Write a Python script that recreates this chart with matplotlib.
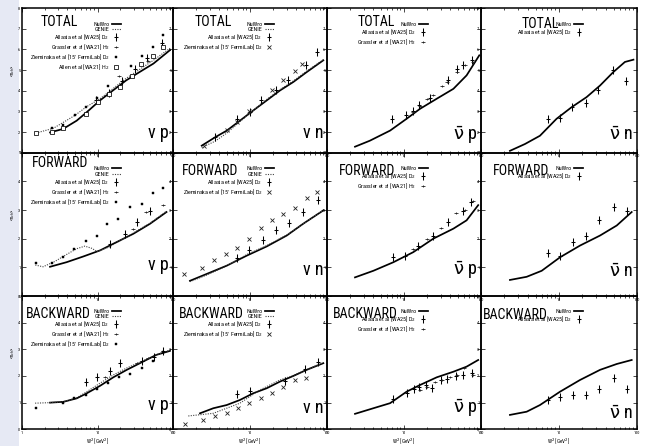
import matplotlib
matplotlib.use("Agg")
import matplotlib.pyplot as plt
from matplotlib.path import Path
from matplotlib.lines import Line2D
from matplotlib.patches import Rectangle

plt.rcParams["font.family"] = ["Liberation Sans Narrow", "Roboto Condensed", "Liberation Sans", "DejaVu Sans"]
plt.rcParams["mathtext.fontset"] = "dejavusans"

# ---------------- mean charged hadron multiplicity <n_ch> vs W^2 [GeV^2] ----------------
# TOTAL, nu p
vp_tot_nuwro_w2 = [2.35, 3.5, 5.3, 7.2, 10.8, 16, 24, 36, 55, 91]
vp_tot_nuwro_n = [1.98, 2.15, 2.55, 2.96, 3.53, 4.01, 4.5, 4.9, 5.31, 5.96]
vp_tot_genie_w2 = [1.53, 2.6, 5.0, 7.2, 10.8, 24, 54, 91]
vp_tot_genie_n = [1.95, 2.18, 2.8, 3.23, 3.61, 4.6, 5.45, 6.05]
vp_tot_allasia_w2 = [9.5, 14, 21, 31, 45, 72]
vp_tot_allasia_n = [3.55, 3.9, 4.45, 5.05, 5.6, 6.3]
vp_tot_grassler_w2 = [19.3, 47]
vp_tot_grassler_n = [4.7, 5.42]
vp_tot_zieminska_w2 = [2.5, 3.5, 5.0, 7.0, 9.9, 13.9, 27.5, 38.5, 54, 74]
vp_tot_zieminska_n = [2.18, 2.36, 2.8, 3.2, 3.66, 4.25, 5.18, 5.67, 6.12, 6.69]
vp_tot_allen_w2 = [1.53, 2.5, 3.5, 7.0, 10, 14, 20, 29, 38, 55, 74]
vp_tot_allen_n = [1.95, 2.02, 2.18, 2.88, 3.44, 3.85, 4.2, 4.7, 5.28, 5.67, 6.12]

# TOTAL, nu n
vn_tot_nuwro_w2 = [2.36, 3.5, 5.0, 7.4, 11, 16.5, 24.5, 36.5, 54.5, 89.6]
vn_tot_nuwro_n = [1.34, 1.74, 2.07, 2.55, 3.04, 3.53, 4.01, 4.42, 4.9, 5.47]
vn_tot_genie_w2 = [2.36, 3.5, 5.0, 7.4, 11, 16.5, 24.5, 36.5, 54.5, 89.6]
vn_tot_genie_n = [1.25, 1.55, 1.95, 2.5, 3.05, 3.58, 4.05, 4.47, 4.95, 5.5]
vn_tot_allasia_w2 = [3.5, 6.8, 10, 13.9, 21.8, 31.4, 53, 73.5]
vn_tot_allasia_n = [1.74, 2.63, 2.96, 3.56, 4.04, 4.5, 5.23, 5.88]
vn_tot_zieminska_w2 = [2.5, 5.0, 6.8, 9.8, 19.5, 27, 38, 48]
vn_tot_zieminska_n = [1.3, 2.1, 2.47, 3.04, 4.04, 4.5, 4.95, 5.31]

# TOTAL, anti-nu p
ap_tot_nuwro_w2 = [2.31, 3.6, 6.6, 10.8, 16.1, 26.6, 43.8, 65, 95]
ap_tot_nuwro_n = [1.29, 1.58, 2.07, 2.64, 3.12, 3.61, 4.09, 4.74, 5.71]
ap_tot_allasia_w2 = [6.9, 10.6, 13.2, 15.7, 21.8, 37.6, 48.3, 59, 75.6]
ap_tot_allasia_n = [2.64, 2.8, 3.04, 3.33, 3.66, 4.5, 5.07, 5.23, 5.47]
ap_tot_grassler_w2 = [13.2, 16.1, 19.7, 23.9, 30.9, 36.5, 48.3, 62, 78]
ap_tot_grassler_n = [2.96, 3.28, 3.61, 3.77, 4.21, 4.42, 4.9, 5.23, 5.39]

# TOTAL, anti-nu n
an_tot_nuwro_w2 = [2.35, 3.66, 5.7, 9.3, 14.5, 22.6, 33.6, 49.7, 70, 90]
an_tot_nuwro_n = [1.09, 1.42, 1.82, 2.64, 3.2, 3.69, 4.25, 4.9, 5.39, 5.5]
an_tot_allasia_w2 = [7.3, 10.3, 14.5, 22.2, 31.9, 49.7, 71.6]
an_tot_allasia_n = [2.64, 2.68, 3.2, 3.4, 4.04, 4.98, 4.45]

# FORWARD, nu p
vp_fwd_nuwro_w2 = [2.35, 3.9, 6.5, 10.8, 17.9, 29.8, 49.6, 82]
vp_fwd_nuwro_n = [1.02, 1.18, 1.38, 1.59, 1.88, 2.17, 2.52, 2.93]
vp_fwd_genie_w2 = [1.5, 1.9, 2.7, 3.9, 5.3, 6.8, 8.5, 9.8, 14, 25, 50, 82]
vp_fwd_genie_n = [1.08, 1.02, 1.2, 1.45, 1.65, 1.74, 1.66, 1.55, 1.7, 2.08, 2.55, 2.96]
vp_fwd_allasia_w2 = [14.6, 23, 33, 49.6]
vp_fwd_allasia_n = [1.82, 2.15, 2.58, 2.96]
vp_fwd_grassler_w2 = [29.8, 43.5, 74]
vp_fwd_grassler_n = [2.35, 2.93, 3.16]
vp_fwd_zieminska_w2 = [1.53, 2.47, 3.5, 4.9, 7.0, 9.8, 13.5, 18.9, 27, 38.5, 54, 74]
vp_fwd_zieminska_n = [1.15, 1.14, 1.35, 1.65, 1.91, 2.11, 2.52, 2.67, 3.11, 3.22, 3.58, 3.77]

# FORWARD, nu n
vn_fwd_nuwro_w2 = [1.66, 2.74, 5, 9.1, 16.5, 30, 49, 90]
vn_fwd_nuwro_n = [0.53, 0.77, 1.06, 1.41, 1.73, 2.11, 2.52, 2.99]
vn_fwd_genie_w2 = [1.66, 2.74, 5, 9.1, 16.5, 30, 49, 90]
vn_fwd_genie_n = [0.5, 0.73, 1.05, 1.45, 1.76, 2.13, 2.52, 3.0]
vn_fwd_allasia_w2 = [6.8, 9.8, 14.9, 21.8, 32.4, 49, 77]
vn_fwd_allasia_n = [1.33, 1.61, 1.94, 2.29, 2.54, 2.93, 3.34]
vn_fwd_zieminska_w2 = [1.39, 2.36, 3.4, 4.9, 6.8, 9.8, 13.8, 19.5, 27, 38.4, 54.5, 75]
vn_fwd_zieminska_n = [0.77, 0.98, 1.26, 1.47, 1.68, 2.0, 2.38, 2.64, 2.87, 3.08, 3.43, 3.63]

# FORWARD, anti-nu p
ap_fwd_nuwro_w2 = [2.31, 4.0, 7.3, 13.2, 24, 43.8, 65, 92]
ap_fwd_nuwro_n = [0.65, 0.88, 1.18, 1.53, 2.0, 2.35, 2.64, 3.17]
ap_fwd_allasia_w2 = [7.1, 10.3, 15.4, 24, 37.6, 59, 73.5]
ap_fwd_allasia_n = [1.35, 1.41, 1.76, 2.08, 2.58, 2.96, 3.28]
ap_fwd_grassler_w2 = [13.2, 19.7, 30, 47.5, 62, 78]
ap_fwd_grassler_n = [1.65, 2.0, 2.38, 2.89, 3.0, 3.3]

# FORWARD, anti-nu n
an_fwd_nuwro_w2 = [2.35, 3.85, 6.0, 10.3, 18.6, 33.6, 55, 85.5]
an_fwd_nuwro_n = [0.56, 0.67, 0.88, 1.35, 1.76, 2.11, 2.46, 2.93]
an_fwd_allasia_w2 = [7.3, 10.3, 15, 22.2, 32.9, 51, 75]
an_fwd_allasia_n = [1.49, 1.41, 1.9, 2.11, 2.64, 3.11, 2.96]

# BACKWARD, nu p
vp_bwd_nuwro_w2 = [2.35, 3.52, 5.3, 7.2, 10.8, 16.2, 24.4, 36.5, 60, 91]
vp_bwd_nuwro_n = [1.0, 1.03, 1.16, 1.35, 1.63, 1.95, 2.23, 2.48, 2.79, 2.94]
vp_bwd_genie_w2 = [1.49, 2.35, 3.52, 5.3, 7.2, 10.8, 16.2, 24.4, 36.5, 60, 91]
vp_bwd_genie_n = [0.98, 1.0, 1.03, 1.18, 1.41, 1.73, 2.04, 2.3, 2.52, 2.8, 2.97]
vp_bwd_allasia_w2 = [7.0, 9.9, 14.6, 19.8, 38.5, 56, 74]
vp_bwd_allasia_n = [1.76, 1.95, 2.19, 2.48, 2.57, 2.72, 2.94]
vp_bwd_grassler_w2 = [12.6, 33, 47]
vp_bwd_grassler_n = [1.95, 2.5, 2.66]
vp_bwd_zieminska_w2 = [1.53, 3.5, 4.9, 7.0, 9.9, 13.9, 19.4, 27, 38.5, 54, 74]
vp_bwd_zieminska_n = [0.79, 0.98, 1.16, 1.29, 1.5, 1.73, 1.98, 2.06, 2.29, 2.57, 2.89]

# BACKWARD, nu n
vn_bwd_nuwro_w2 = [2.24, 3.34, 4.98, 7.4, 11, 16.5, 24.5, 36.5, 54.5, 89.6]
vn_bwd_nuwro_n = [0.6, 0.79, 0.91, 1.1, 1.35, 1.54, 1.79, 2.0, 2.23, 2.48]
vn_bwd_genie_w2 = [1.58, 3.34, 7.4, 13.5, 24.5, 36.5, 54.5, 89.6]
vn_bwd_genie_n = [0.5, 0.6, 0.98, 1.48, 1.85, 2.02, 2.24, 2.5]
vn_bwd_allasia_w2 = [6.8, 10, 28.5, 52, 77]
vn_bwd_allasia_n = [1.33, 1.45, 1.82, 2.26, 2.54]
vn_bwd_zieminska_w2 = [1.43, 2.43, 3.5, 5.0, 7.0, 9.8, 13.8, 19.5, 27, 38.4, 53]
vn_bwd_zieminska_n = [0.19, 0.35, 0.5, 0.6, 0.79, 0.98, 1.16, 1.38, 1.6, 1.85, 1.91]

# BACKWARD, anti-nu p
ap_bwd_nuwro_w2 = [2.31, 4.0, 6.6, 10.8, 16.1, 26.6, 43.8, 65, 92]
ap_bwd_nuwro_n = [0.58, 0.79, 0.98, 1.41, 1.66, 1.95, 2.16, 2.35, 2.6]
ap_bwd_allasia_w2 = [7.1, 10.8, 13.5, 15.8, 19.3, 22.9, 30, 36.5, 47.5, 58, 75.6]
ap_bwd_allasia_n = [1.13, 1.38, 1.5, 1.6, 1.66, 1.54, 1.85, 1.88, 2.0, 2.04, 2.12]
ap_bwd_grassler_w2 = [16.1, 19.7, 25.3, 31.6, 39.5, 49, 60, 78]
ap_bwd_grassler_n = [1.48, 1.58, 1.79, 1.85, 1.95, 2.04, 2.29, 2.04]

# BACKWARD, anti-nu n
an_bwd_nuwro_w2 = [2.35, 3.85, 5.7, 10.3, 18.6, 33.6, 55, 85.5]
an_bwd_nuwro_n = [0.54, 0.66, 0.91, 1.41, 1.85, 2.23, 2.45, 2.6]
an_bwd_allasia_w2 = [7.3, 10.3, 15, 22.2, 32.9, 51, 73.6]
an_bwd_allasia_n = [1.1, 1.22, 1.29, 1.29, 1.51, 1.91, 1.51]

row_titles = ["TOTAL", "FORWARD", "BACKWARD"]
channel_labels = ["ν p", "ν n", "$\\bar{\\mathrm{\\nu}}$ p", "$\\bar{\\mathrm{\\nu}}$ n"]
row_ylims = [(1, 8), (0, 5), (0, 5)]
row_yticks = [[1, 2, 3, 4, 5, 6, 7, 8], [0, 1, 2, 3, 4, 5], [0, 1, 2, 3, 4, 5]]
x_ticks = [1, 10, 100]
x_ticklabels = ["1", "10", "100"]

# ---------------- marker shapes ----------------
tall_plus = Path([(-0.5, 0), (0.5, 0), (0, -1), (0, 1)],
                 [Path.MOVETO, Path.LINETO, Path.MOVETO, Path.LINETO])
bar_tick = Path([(-1, 0), (1, 0), (0, -0.45), (0, 0.45)],
                [Path.MOVETO, Path.LINETO, Path.MOVETO, Path.LINETO])

styles = {
    "nuwro": dict(color="black", lw=1.25, ls="-", marker=None),
    "genie": dict(color="#444444", lw=0.8, ls=(0, (1, 1.2)), marker=None),
    "allasia": dict(color="black", ls="none", marker=tall_plus, ms=5.5, mew=0.75),
    "grassler": dict(color="#222222", ls="none", marker=bar_tick, ms=3.2, mew=0.6),
    "zieminska_p": dict(color="black", ls="none", marker="s", ms=2.0, mew=0.3),
    "zieminska_n": dict(color="#222222", ls="none", marker="x", ms=2.6, mew=0.6),
    "allen": dict(color="black", ls="none", marker="s", ms=2.6, mew=0.55, mfc="white"),
}
labels = {
    "nuwro": "NuWro",
    "genie": "GENIE",
    "allasia": "Allasia et al [WA25] D$_2$",
    "grassler": "Grassler et al [WA21] H$_2$",
    "zieminska_p": "Zieminska et al [15' FermiLab] D$_2$",
    "zieminska_n": "Zieminska et al [15' FermiLab] D$_2$",
    "allen": "Allen et al [WA21] H$_2$",
}

panels = [
    [  # TOTAL
        [("nuwro", vp_tot_nuwro_w2, vp_tot_nuwro_n), ("genie", vp_tot_genie_w2, vp_tot_genie_n),
         ("allasia", vp_tot_allasia_w2, vp_tot_allasia_n), ("grassler", vp_tot_grassler_w2, vp_tot_grassler_n),
         ("zieminska_p", vp_tot_zieminska_w2, vp_tot_zieminska_n), ("allen", vp_tot_allen_w2, vp_tot_allen_n)],
        [("nuwro", vn_tot_nuwro_w2, vn_tot_nuwro_n), ("genie", vn_tot_genie_w2, vn_tot_genie_n),
         ("allasia", vn_tot_allasia_w2, vn_tot_allasia_n), ("zieminska_n", vn_tot_zieminska_w2, vn_tot_zieminska_n)],
        [("nuwro", ap_tot_nuwro_w2, ap_tot_nuwro_n), ("allasia", ap_tot_allasia_w2, ap_tot_allasia_n),
         ("grassler", ap_tot_grassler_w2, ap_tot_grassler_n)],
        [("nuwro", an_tot_nuwro_w2, an_tot_nuwro_n), ("allasia", an_tot_allasia_w2, an_tot_allasia_n)],
    ],
    [  # FORWARD
        [("nuwro", vp_fwd_nuwro_w2, vp_fwd_nuwro_n), ("genie", vp_fwd_genie_w2, vp_fwd_genie_n),
         ("allasia", vp_fwd_allasia_w2, vp_fwd_allasia_n), ("grassler", vp_fwd_grassler_w2, vp_fwd_grassler_n),
         ("zieminska_p", vp_fwd_zieminska_w2, vp_fwd_zieminska_n)],
        [("nuwro", vn_fwd_nuwro_w2, vn_fwd_nuwro_n), ("genie", vn_fwd_genie_w2, vn_fwd_genie_n),
         ("allasia", vn_fwd_allasia_w2, vn_fwd_allasia_n), ("zieminska_n", vn_fwd_zieminska_w2, vn_fwd_zieminska_n)],
        [("nuwro", ap_fwd_nuwro_w2, ap_fwd_nuwro_n), ("allasia", ap_fwd_allasia_w2, ap_fwd_allasia_n),
         ("grassler", ap_fwd_grassler_w2, ap_fwd_grassler_n)],
        [("nuwro", an_fwd_nuwro_w2, an_fwd_nuwro_n), ("allasia", an_fwd_allasia_w2, an_fwd_allasia_n)],
    ],
    [  # BACKWARD
        [("nuwro", vp_bwd_nuwro_w2, vp_bwd_nuwro_n), ("genie", vp_bwd_genie_w2, vp_bwd_genie_n),
         ("allasia", vp_bwd_allasia_w2, vp_bwd_allasia_n), ("grassler", vp_bwd_grassler_w2, vp_bwd_grassler_n),
         ("zieminska_p", vp_bwd_zieminska_w2, vp_bwd_zieminska_n)],
        [("nuwro", vn_bwd_nuwro_w2, vn_bwd_nuwro_n), ("genie", vn_bwd_genie_w2, vn_bwd_genie_n),
         ("allasia", vn_bwd_allasia_w2, vn_bwd_allasia_n), ("zieminska_n", vn_bwd_zieminska_w2, vn_bwd_zieminska_n)],
        [("nuwro", ap_bwd_nuwro_w2, ap_bwd_nuwro_n), ("allasia", ap_bwd_allasia_w2, ap_bwd_allasia_n),
         ("grassler", ap_bwd_grassler_w2, ap_bwd_grassler_n)],
        [("nuwro", an_bwd_nuwro_w2, an_bwd_nuwro_n), ("allasia", an_bwd_allasia_w2, an_bwd_allasia_n)],
    ],
]

# ---------------- layout (pixels of a 646x446 canvas) ----------------
W, H = 646, 446
col_edges = [(22, 173), (173, 327), (327, 481), (481, 637)]
row_edges = [(8, 152.7), (152.7, 296), (296, 429.3)]
title_pos = [[(0.25, 0.95), (0.26, 0.95), (0.32, 0.95), (0.38, 0.94)],
             [(0.25, 0.98), (0.24, 0.92), (0.26, 0.92), (0.26, 0.92)],
             [(0.24, 0.92), (0.25, 0.92), (0.25, 0.92), (0.22, 0.91)]]
chan_y = [[0.10, 0.10, 0.09, 0.09], [0.18, 0.15, 0.15, 0.13], [0.145, 0.12, 0.12, 0.08]]

fig = plt.figure(figsize=(W / 100, H / 100), dpi=100)
fig.patch.set_facecolor("white")
fig.add_artist(Rectangle((0, 0), 19 / W, 1, transform=fig.transFigure,
                         facecolor="#e6e9f4", edgecolor="none", zorder=0))

for r in range(3):
    for c in range(4):
        x0, x1 = col_edges[c]
        y0, y1 = row_edges[r]
        ax = fig.add_axes([x0 / W, 1 - y1 / H, (x1 - x0) / W, (y1 - y0) / H])
        ax.patch.set_visible(False)
        ax.set_xscale("log")
        ax.set_xlim(1, 100)
        ax.set_ylim(*row_ylims[r])
        ax.set_xticks(x_ticks)
        ax.set_xticklabels(x_ticklabels)
        ax.set_yticks(row_yticks[r])
        ax.tick_params(which="both", direction="in", top=True, right=True,
                       labelsize=3.2, pad=1.2, width=0.5, colors="black")
        ax.tick_params(which="major", length=2.6)
        ax.tick_params(which="minor", length=1.5)
        for s in ax.spines.values():
            s.set_linewidth(1.1)

        handles, texts = [], []
        for key, w2, n in panels[r][c]:
            st = dict(styles[key])
            ax.plot(w2, n, **st, zorder=3)
            handles.append(Line2D([], [], **st))
            texts.append(labels[key])

        ax.legend(handles, texts, loc="upper right", bbox_to_anchor=(0.655, 0.905),
                  markerfirst=False, frameon=False, fontsize=4.3, handlelength=1.5,
                  handletextpad=0.4, labelspacing=0.02, borderpad=0, borderaxespad=0)

        tx, ty = title_pos[r][c]
        ax.text(tx, ty, row_titles[r], transform=ax.transAxes, ha="center", va="top",
                fontsize=10, color="black")
        ax.text(0.975, chan_y[r][c], channel_labels[c], transform=ax.transAxes,
                ha="right", va="baseline", fontsize=13, color="black")

# axis labels
for r in range(3):
    yc = (row_edges[r][0] + row_edges[r][1]) / 2 - 10
    fig.text(13 / W, 1 - yc / H, "<n$_{ch}$>", rotation=90, ha="center", va="center",
             fontsize=3.4)
for c in range(4):
    xc = (col_edges[c][0] + col_edges[c][1]) / 2
    fig.text(xc / W, 1 - 441 / H, "W$^2$ [GeV$^2$]", ha="center", va="center", fontsize=3.8)

fig.savefig("out.png", dpi=100)
